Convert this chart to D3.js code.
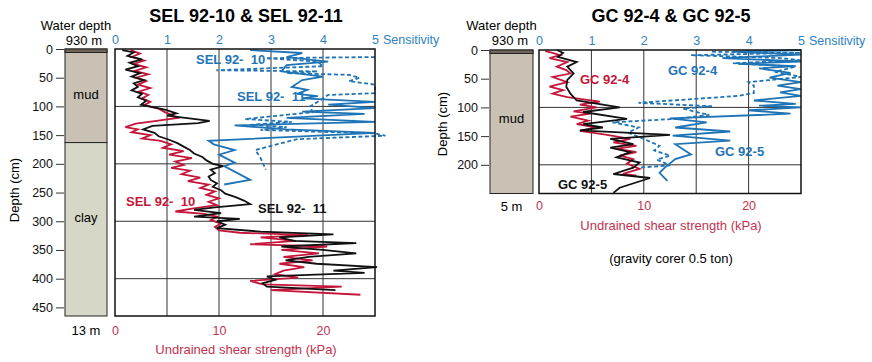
<!DOCTYPE html>
<html>
<head>
<meta charset="utf-8">
<script src="https://cdn.jsdelivr.net/npm/d3@7"></script>
<style>
  body { margin: 0; background: #fff; }
  svg text { font-family: "Liberation Sans", Arial, Helvetica, sans-serif; }
</style>
</head>
<body>
<div id="chart"></div>
<script>
// ---- data: [depth (cm), value] ----
// shear strength in kPa, sensitivity dimensionless

const sel10Shear = [[2,1.5],[8,2.4],[14,1.6],[20,2.8],[26,1.8],[32,3.0],[38,1.9],[44,3.2],[50,2.0],[56,3.0],[62,2.2],[68,3.4],[74,2.3],[80,3.2],[86,2.6],[92,3.4],[98,2.8],[104,4.2],[110,4.8],[116,5.6],[120,6.0],[125,4.0],[130,2.0],[136,1.0],[140,2.2],[145,1.6],[150,3.4],[156,2.6],[160,4.4],[166,5.4],[172,4.6],[178,6.6],[184,5.2],[190,7.4],[196,5.8],[202,6.6],[207,5.4],[212,7.2],[218,6.4],[224,8.2],[230,7.0],[236,9.0],[242,8.2],[248,9.6],[254,8.8],[260,10.0],[266,9.0],[272,9.8],[278,7.4],[283,5.8],[287,8.6],[292,9.8],[298,9.2],[304,10.2],[310,9.6],[316,10.0],[320,12.0],[324,18.6],[328,14.0],[334,17.4],[340,13.0],[344,20.4],[350,16.0],[356,19.6],[362,16.2],[368,19.0],[374,15.8],[380,18.2],[386,16.2],[392,15.4],[398,17.6],[404,13.0],[410,14.2],[414,21.8],[420,15.0],[428,23.6]];

const sel11Shear = [[2,0.7],[6,1.8],[12,1.2],[18,2.6],[24,1.4],[30,2.2],[36,1.0],[42,2.4],[48,1.6],[54,2.8],[60,1.8],[66,2.2],[72,1.6],[78,2.6],[84,2.2],[90,3.0],[97,2.5],[106,4.9],[112,5.9],[116,5.0],[125,9.1],[129,8.0],[134,3.6],[140,2.7],[146,3.8],[152,4.2],[158,5.2],[164,6.0],[170,6.6],[176,7.2],[182,7.6],[188,8.4],[194,8.8],[200,9.4],[204,10.4],[210,9.2],[216,9.6],[222,9.0],[228,9.2],[234,9.8],[240,9.4],[246,10.2],[252,10.6],[258,11.6],[264,12.4],[270,13.0],[276,9.6],[280,7.6],[286,10.2],[292,7.6],[296,12.0],[300,9.8],[306,10.6],[312,9.8],[318,14.0],[323,21.0],[328,15.8],[334,17.2],[338,23.2],[344,16.0],[350,20.0],[356,23.2],[362,18.6],[368,16.4],[374,19.4],[380,25.2],[386,21.0],[390,24.0],[396,14.6],[402,15.4],[408,14.2],[414,14.6],[420,21.2]];

const sel10Sens = [[14,5.0],[16,2.9],[22,3.9],[30,4.0],[37,1.95],[39,3.9],[42,3.3],[45,4.5],[50,4.7],[56,4.5],[62,5.0],[77,5.0],[80,4.1],[92,3.9],[100,3.75],[110,3.8],[122,2.5],[127,3.4],[132,2.6],[136,3.3],[141,2.8],[147,5.0],[151,5.2],[157,3.5],[164,3.2],[176,2.7],[190,2.8],[210,2.9]];

const sel11Sens = [[2,2.6],[7,3.6],[14,3.3],[22,4.1],[28,3.3],[39,3.2],[48,4.0],[54,3.6],[66,3.4],[71,3.7],[78,3.5],[82,3.9],[86,3.6],[92,5.0],[97,4.1],[103,5.0],[109,3.6],[113,4.8],[120,3.3],[127,5.0],[133,2.3],[140,3.3],[146,5.0],[152,3.6],[160,1.8],[166,1.9],[176,2.3],[184,2.0],[198,2.3],[204,2.1],[228,2.6],[236,2.1]];

const gc4Shear = [[2,0.6],[5,1.3],[9,2.0],[14,1.0],[21,2.7],[29,1.7],[35,2.6],[41,3.0],[47,1.3],[56,2.7],[64,1.0],[70,2.3],[76,1.3],[82,2.7],[90,5.8],[95,3.9],[100,5.5],[107,3.3],[111,4.9],[116,3.0],[123,4.7],[129,3.6],[135,5.5],[141,3.9],[148,6.5],[155,8.7],[161,7.1],[167,9.3],[172,7.4],[178,9.3],[184,7.7],[190,9.0],[198,8.4],[207,9.6],[216,8.0],[219,9.3]];

const gc5Shear = [[0,1.7],[5,2.3],[12,1.8],[21,3.6],[29,2.7],[41,3.3],[52,2.7],[64,2.6],[76,3.0],[88,3.6],[100,7.7],[108,4.2],[120,8.4],[129,4.2],[135,6.1],[140,3.9],[148,12.5],[155,6.8],[164,9.0],[170,6.8],[178,8.7],[187,7.4],[196,9.6],[205,9.0],[216,7.1],[223,10.6],[240,7.7],[249,7.1]];

const gc4Sens = [[3,3.3],[5,5.0],[9,2.9],[14,4.6],[18,5.0],[23,3.7],[29,4.9],[38,4.5],[47,5.0],[56,4.0],[62,4.1],[75,4.1],[80,3.8],[92,1.9],[98,3.3],[102,2.75],[108,3.0],[113,3.25],[120,2.6],[126,1.4],[135,1.9],[144,1.7],[155,2.0],[167,2.3],[175,2.2],[184,2.5],[191,2.25],[201,2.5],[205,1.9]];

const gc5Sens = [[0,5.0],[3,3.7],[8,5.0],[14,3.5],[20,5.0],[24,3.8],[28,4.9],[32,4.2],[40,4.8],[48,4.4],[56,5.0],[62,4.55],[68,5.0],[74,4.6],[80,5.0],[88,4.1],[94,4.9],[97,4.2],[100,5.0],[105,4.0],[111,4.8],[119,2.5],[126,3.2],[135,2.6],[142,3.65],[149,2.55],[158,3.65],[164,2.6],[176,2.8],[182,2.9],[190,2.6],[205,2.4],[214,2.3],[228,2.45]];

// tick labels
const kpaTicks = [0, 10, 20];
const kpaGrid = [5, 10, 15, 20];
const sensTicks = [0, 1, 2, 3, 4, 5];
const selDepthTicks = [0, 50, 100, 150, 200, 250, 300, 350, 400, 450];
const gcDepthTicks = [0, 50, 100, 150, 200];
const selDepthGrid = [100, 200, 300, 400];
const gcDepthGrid = [100, 200];

// lithology [top, bottom, name]
const selLayers = [[0, 163, "mud"], [163, 465, "clay"]];
const gcLayers = [[0, 250, "mud"]];

const width = 872;
const height = 362;

const RED = "#c4163a";
const RED_TEXT = "#c23350";
const BLUE = "#1f74b6";
const BLUE_TEXT = "#2c82c2";
const layerFill = { mud: "#c9c2b4", clay: "#d7d7c8" };

const svg = d3.select("#chart")
    .append("svg")
    .attr("width", width)
    .attr("height", height);

function drawPanel(p) {
    const g = svg.append("g");
    const x = d3.scaleLinear().domain([0, 25]).range([p.left, p.right]);
    const s = d3.scaleLinear().domain([0, 5]).range([p.left, p.right]);
    const y = d3.scaleLinear().domain([0, p.maxDepth]).range([p.top, p.bottom]);

    // title
    g.append("text")
        .attr("x", p.titleX).attr("y", 22)
        .attr("text-anchor", "middle")
        .attr("font-size", 18).attr("font-weight", "bold")
        .text(p.title);

    // water depth labels
    g.append("text")
        .attr("x", (p.colL + p.colR) / 2 - 10).attr("y", 30)
        .attr("text-anchor", "middle").attr("font-size", 13)
        .text("Water depth");
    g.append("text")
        .attr("x", p.colR - 5).attr("y", 45)
        .attr("text-anchor", "end").attr("font-size", 13)
        .text("930 m");

    // lithology column
    p.layers.forEach(function (l) {
        g.append("rect")
            .attr("x", p.colL).attr("y", y(l[0]))
            .attr("width", p.colR - p.colL).attr("height", y(l[1]) - y(l[0]))
            .attr("fill", layerFill[l[2]])
            .attr("stroke", "#222").attr("stroke-width", 1);
        g.append("text")
            .attr("x", (p.colL + p.colR) / 2).attr("y", p.layerLabelY[l[2]])
            .attr("text-anchor", "middle").attr("font-size", 13)
            .text(l[2]);
    });
    g.append("rect")
        .attr("x", p.colL).attr("y", y(0))
        .attr("width", p.colR - p.colL).attr("height", 3.5)
        .attr("fill", "#6e6558").attr("stroke", "#222").attr("stroke-width", 1);

    g.append("text")
        .attr("x", (p.colL + p.colR) / 2).attr("y", p.coreLenY)
        .attr("text-anchor", "middle").attr("font-size", 13)
        .text(p.coreLen);

    // depth axis
    const ya = g.append("g")
        .attr("transform", "translate(" + (p.colL - 1) + ",0)")
        .call(d3.axisLeft(y).tickValues(p.depthTicks).tickSize(8).tickPadding(3));
    ya.select(".domain").remove();
    ya.selectAll("line").attr("stroke", "#333");
    ya.selectAll("text").attr("font-size", 12.5).attr("font-family", null).attr("fill", "#111");

    g.append("text")
        .attr("transform", "translate(" + p.depthLabelX + "," + p.depthLabelY + ") rotate(-90)")
        .attr("text-anchor", "middle").attr("font-size", 13)
        .text("Depth (cm)");

    // grid
    g.selectAll(".vgrid").data(kpaGrid).enter().append("line")
        .attr("x1", d => x(d)).attr("x2", d => x(d))
        .attr("y1", p.top).attr("y2", p.bottom)
        .attr("stroke", "#333").attr("stroke-width", 1);
    g.selectAll(".hgrid").data(p.depthGrid).enter().append("line")
        .attr("x1", p.left).attr("x2", p.right)
        .attr("y1", d => y(d)).attr("y2", d => y(d))
        .attr("stroke", "#333").attr("stroke-width", 1);

    // curves
    const shearLine = d3.line().x(d => x(d[1])).y(d => y(d[0]));
    const sensLine = d3.line().x(d => s(d[1])).y(d => y(d[0]));

    g.append("path").datum(p.sensDashed).attr("d", sensLine)
        .attr("fill", "none").attr("stroke", BLUE).attr("stroke-width", 1.8)
        .attr("stroke-dasharray", "4,2.5");
    g.append("path").datum(p.sensSolid).attr("d", sensLine)
        .attr("fill", "none").attr("stroke", BLUE).attr("stroke-width", 1.8);
    g.append("path").datum(p.shearRed).attr("d", shearLine)
        .attr("fill", "none").attr("stroke", RED).attr("stroke-width", 1.8);
    g.append("path").datum(p.shearBlack).attr("d", shearLine)
        .attr("fill", "none").attr("stroke", "#111").attr("stroke-width", 1.8);

    // frame
    g.append("rect")
        .attr("x", p.left).attr("y", p.top)
        .attr("width", p.right - p.left).attr("height", p.bottom - p.top)
        .attr("fill", "none").attr("stroke", "#111").attr("stroke-width", 1.5);

    // sensitivity axis on top
    const ta = g.append("g")
        .attr("transform", "translate(0," + p.top + ")")
        .call(d3.axisTop(s).tickValues(sensTicks).tickFormat(d3.format("d")).tickSize(0).tickPadding(5));
    ta.select(".domain").remove();
    ta.selectAll("text").attr("font-size", 12.5).attr("font-family", null).attr("fill", BLUE_TEXT);
    g.append("text")
        .attr("x", p.right + 8).attr("y", p.top - 5)
        .attr("font-size", 12.5).attr("fill", BLUE_TEXT)
        .text("Sensitivity");

    // shear strength axis at bottom
    const ba = g.append("g")
        .attr("transform", "translate(0," + p.bottom + ")")
        .call(d3.axisBottom(x).tickValues(kpaTicks).tickFormat(d3.format("d")).tickSize(0).tickPadding(p.bottomPad));
    ba.select(".domain").remove();
    ba.selectAll("text").attr("font-size", 12.5).attr("font-family", null).attr("fill", RED_TEXT);
    g.append("text")
        .attr("x", p.titleX).attr("y", p.bottom + p.axisLabelDy)
        .attr("text-anchor", "middle").attr("font-size", 13).attr("fill", RED_TEXT)
        .text("Undrained shear strength (kPa)");

    // curve labels
    p.labels.forEach(function (l) {
        g.append("text")
            .attr("x", l.x).attr("y", l.y)
            .attr("font-size", 13).attr("font-weight", "bold")
            .attr("fill", l.color)
            .style("white-space", "pre")
            .text(l.text);
    });
}

drawPanel({
    title: "SEL 92-10 & SEL 92-11", titleX: 246,
    left: 115, right: 375, top: 49, bottom: 316, maxDepth: 465,
    colL: 65, colR: 107,
    layers: selLayers, layerLabelY: { mud: 99, clay: 222 },
    coreLen: "13 m", coreLenY: 335,
    depthTicks: selDepthTicks, depthGrid: selDepthGrid,
    depthLabelX: 19, depthLabelY: 190,
    shearRed: sel10Shear, shearBlack: sel11Shear,
    sensDashed: sel10Sens, sensSolid: sel11Sens,
    bottomPad: 10, axisLabelDy: 38,
    labels: [
        { text: "SEL 92-  10", x: 196, y: 64, color: BLUE },
        { text: "SEL 92-  11", x: 237, y: 101, color: BLUE },
        { text: "SEL 92-  10", x: 126, y: 206, color: RED },
        { text: "SEL 92-  11", x: 258, y: 213, color: "#111" }
    ]
});

drawPanel({
    title: "GC 92-4 & GC 92-5", titleX: 671,
    left: 539, right: 801, top: 50, bottom: 193.5, maxDepth: 250,
    colL: 490, colR: 533,
    layers: gcLayers, layerLabelY: { mud: 123 },
    coreLen: "5 m", coreLenY: 211,
    depthTicks: gcDepthTicks, depthGrid: gcDepthGrid,
    depthLabelX: 447, depthLabelY: 124,
    shearRed: gc4Shear, shearBlack: gc5Shear,
    sensDashed: gc4Sens, sensSolid: gc5Sens,
    bottomPad: 8, axisLabelDy: 36,
    labels: [
        { text: "GC 92-4", x: 580, y: 84, color: RED },
        { text: "GC 92-4", x: 668, y: 75, color: BLUE },
        { text: "GC 92-5", x: 715, y: 156, color: BLUE },
        { text: "GC 92-5", x: 558, y: 189, color: "#111" }
    ]
});

svg.append("text")
    .attr("x", 671).attr("y", 263)
    .attr("text-anchor", "middle").attr("font-size", 13)
    .text("(gravity corer 0.5 ton)");
</script>
</body>
</html>
